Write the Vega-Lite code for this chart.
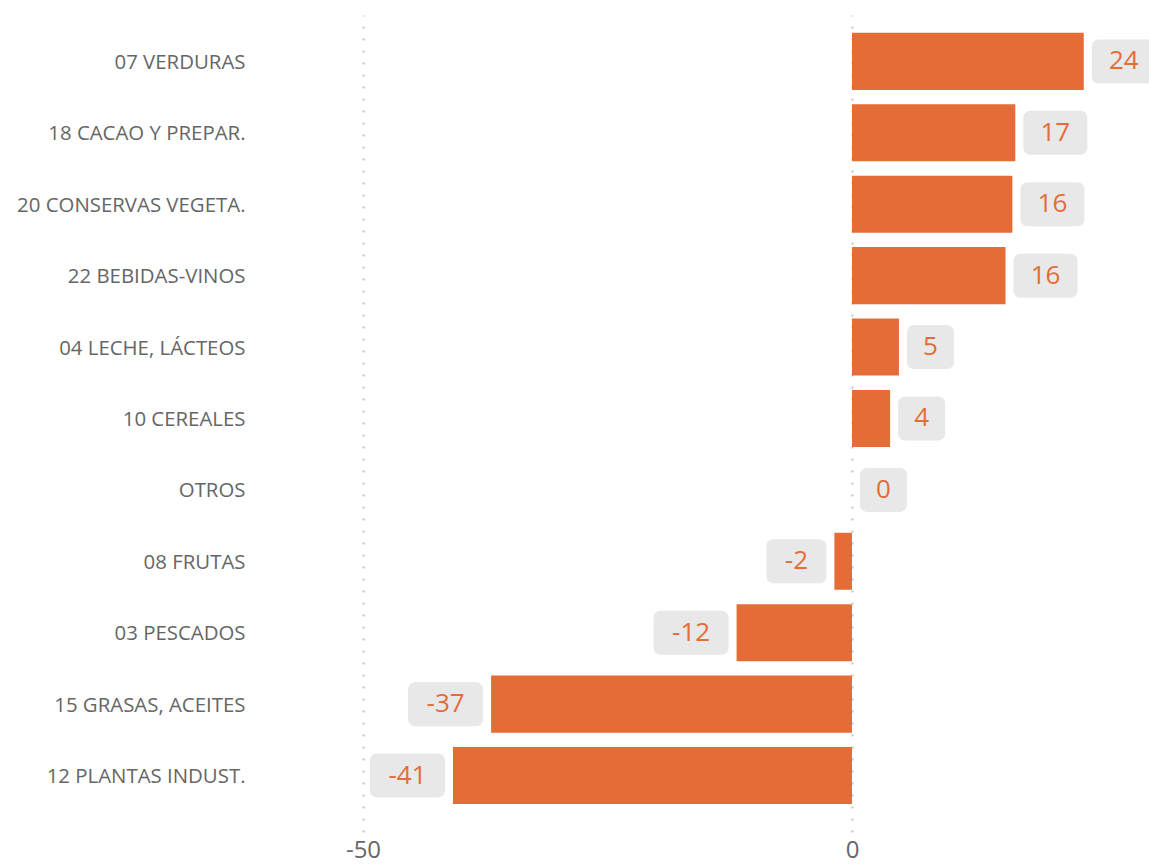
{
  "$schema": "https://vega.github.io/schema/vega-lite/v6.json",
  "autosize": {"type": "none"},
  "width": 786,
  "height": 817,
  "padding": {"left": 363, "top": 15, "right": 0, "bottom": 32},
  "background": "white",
  "config": {
    "view": {"stroke": null},
    "font": "Open Sans",
    "locale": {
      "number": {"decimal": ".", "thousands": ",", "grouping": [3], "currency": ["", ""], "minus": "-"}
    }
  },
  "data": {
    "values": [
      {"categoria": "07 VERDURAS", "valor": 23.7},
      {"categoria": "18 CACAO Y PREPAR.", "valor": 16.7},
      {"categoria": "20 CONSERVAS VEGETA.", "valor": 16.4},
      {"categoria": "22 BEBIDAS-VINOS", "valor": 15.7},
      {"categoria": "04 LECHE, LÁCTEOS", "valor": 4.8},
      {"categoria": "10 CEREALES", "valor": 3.9},
      {"categoria": "OTROS", "valor": 0},
      {"categoria": "08 FRUTAS", "valor": -1.8},
      {"categoria": "03 PESCADOS", "valor": -11.8},
      {"categoria": "15 GRASAS, ACEITES", "valor": -36.9},
      {"categoria": "12 PLANTAS INDUST.", "valor": -40.8}
    ]
  },
  "encoding": {
    "y": {
      "field": "categoria",
      "type": "nominal",
      "sort": null,
      "scale": {"paddingInner": 0.2, "paddingOuter": 0.32, "align": 0.39},
      "axis": {
        "title": null,
        "domain": false,
        "ticks": false,
        "grid": false,
        "labelPadding": 118,
        "labelFontSize": 20.4,
        "labelColor": "#666666",
        "labelLimit": 400,
        "labelOffset": 1.5
      }
    },
    "x": {
      "field": "valor",
      "type": "quantitative",
      "scale": {"domain": [-50, 30.37], "nice": false, "zero": false},
      "axis": {
        "title": null,
        "values": [-50, 0],
        "format": "d",
        "grid": true,
        "gridDash": [2, 10],
        "gridColor": "#C4C4C4",
        "gridWidth": 2,
        "domain": false,
        "ticks": false,
        "labelFontSize": 24,
        "labelColor": "#666666",
        "labelPadding": 6,
        "labelFlush": false
      }
    }
  },
  "layer": [
    {
      "mark": {"type": "bar", "color": "#E46C37"},
      "encoding": {"x2": {"datum": 0}}
    },
    {
      "transform": [{"filter": "datum.valor >= 0 && datum.valor < 9.5"}],
      "layer": [
        {
          "mark": {"type": "bar", "color": "#E8E8E8", "cornerRadius": 7, "height": {"band": 0.77}, "xOffset": 8, "x2Offset": 55},
          "encoding": {"x2": {"field": "valor"}}
        },
        {
          "mark": {"type": "text", "color": "#E46C37", "fontSize": 26, "align": "center", "baseline": "middle", "dx": 31.5},
          "encoding": {"text": {"field": "valor", "format": ".0f"}}
        }
      ]
    },
    {
      "transform": [{"filter": "datum.valor >= 9.5"}],
      "layer": [
        {
          "mark": {"type": "bar", "color": "#E8E8E8", "cornerRadius": 7, "height": {"band": 0.77}, "xOffset": 8, "x2Offset": 72},
          "encoding": {"x2": {"field": "valor"}}
        },
        {
          "mark": {"type": "text", "color": "#E46C37", "fontSize": 26, "align": "center", "baseline": "middle", "dx": 40},
          "encoding": {"text": {"field": "valor", "format": ".0f"}}
        }
      ]
    },
    {
      "transform": [{"filter": "datum.valor < 0 && datum.valor > -9.5"}],
      "layer": [
        {
          "mark": {"type": "bar", "color": "#E8E8E8", "cornerRadius": 7, "height": {"band": 0.77}, "xOffset": -68, "x2Offset": -8},
          "encoding": {"x2": {"field": "valor"}}
        },
        {
          "mark": {"type": "text", "color": "#E46C37", "fontSize": 26, "align": "center", "baseline": "middle", "dx": -38},
          "encoding": {"text": {"field": "valor", "format": ".0f"}}
        }
      ]
    },
    {
      "transform": [{"filter": "datum.valor <= -9.5"}],
      "layer": [
        {
          "mark": {"type": "bar", "color": "#E8E8E8", "cornerRadius": 7, "height": {"band": 0.77}, "xOffset": -83, "x2Offset": -8},
          "encoding": {"x2": {"field": "valor"}}
        },
        {
          "mark": {"type": "text", "color": "#E46C37", "fontSize": 26, "align": "center", "baseline": "middle", "dx": -45.5},
          "encoding": {"text": {"field": "valor", "format": ".0f"}}
        }
      ]
    }
  ]
}
